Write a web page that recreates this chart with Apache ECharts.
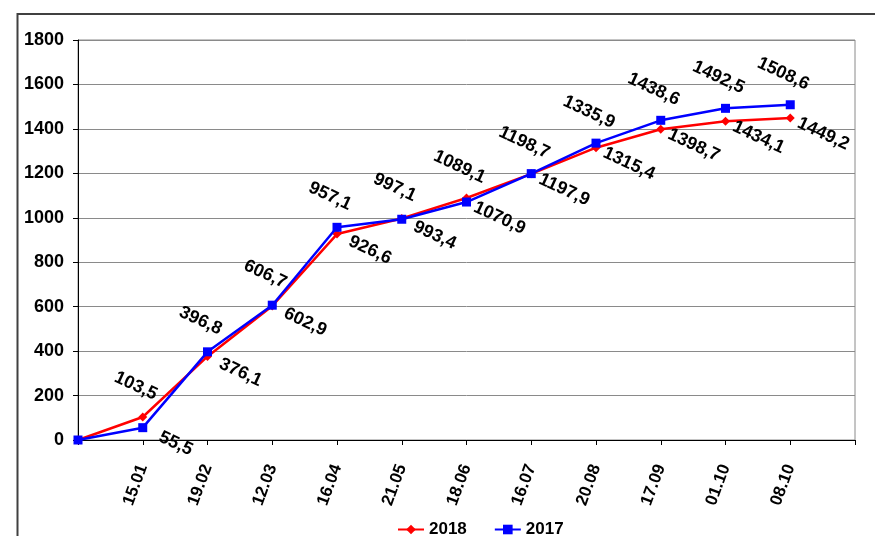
<!DOCTYPE html>
<html>
<head>
<meta charset="utf-8">
<script src="https://cdn.jsdelivr.net/npm/echarts@6/dist/echarts.min.js"></script>
<style>
html,body{margin:0;padding:0;background:#fff;}
#chart{width:875px;height:536px;}
</style>
</head>
<body>
<div id="chart"></div>
<script>
const categories = ['', '15.01', '19.02', '12.03', '16.04', '21.05', '18.06', '16.07', '20.08', '17.09', '01.10', '08.10', ''];
const values2018 = [0, 103.5, 376.1, 602.9, 926.6, 997.1, 1089.1, 1197.9, 1315.4, 1398.7, 1434.1, 1449.2];
const values2017 = [0, 55.5, 396.8, 606.7, 957.1, 993.4, 1070.9, 1198.7, 1335.9, 1438.6, 1492.5, 1508.6];
const yTicks = { min: 0, max: 1800, interval: 200 };

const FONT = "'Liberation Sans', Arial, sans-serif";
const SYM = 9;
const ABOVE = [SYM / 2 - 7, SYM / 2 - 31];
const BELOW = [SYM / 2 + 33, SYM / 2 + 16];

function fmt(v) { return String(v.toFixed(1)).replace('.', ','); }

function buildData(own, other) {
  return own.map(function (v, i) {
    if (i === 0) return { value: v, label: { show: false } };
    const above = v >= other[i];
    return { value: v, label: { position: above ? ABOVE : BELOW } };
  });
}

const labelCommon = {
  show: true,
  rotate: -25,
  align: 'center',
  verticalAlign: 'middle',
  color: '#000',
  fontFamily: FONT,
  fontWeight: 'bold',
  fontSize: 18,
  formatter: function (p) { return fmt(p.value); }
};

const chart = echarts.init(document.getElementById('chart'), null, { renderer: 'canvas' });
chart.setOption({
  animation: false,
  backgroundColor: '#fff',
  graphic: [{
    type: 'rect',
    shape: { x: 17.5, y: 14, width: 900, height: 600 },
    style: { fill: 'none', stroke: '#404040', lineWidth: 2 },
    silent: true
  }],
  grid: {
    left: 78, right: 20, top: 40, bottom: 96,
    show: true, borderColor: '#8a8a8a', borderWidth: 1, backgroundColor: 'transparent'
  },
  legend: {
    left: 397, top: 521, padding: 0,
    itemWidth: 26, itemHeight: 12, itemGap: 27,
    textStyle: { color: '#000', fontFamily: FONT, fontWeight: 'bold', fontSize: 17, padding: [0, 0, 0, 0] },
    data: ['2018', '2017']
  },
  xAxis: {
    type: 'category',
    data: categories,
    boundaryGap: false,
    axisLine: { lineStyle: { color: '#000', width: 1 } },
    axisTick: { show: true, length: 5, interval: 0, lineStyle: { color: '#000' } },
    axisLabel: {
      interval: 0, rotate: 70, margin: 25,
      color: '#000', fontFamily: FONT, fontWeight: 'bold', fontSize: 17
    },
    splitLine: { show: false }
  },
  yAxis: {
    type: 'value',
    min: yTicks.min, max: yTicks.max, interval: yTicks.interval,
    axisLine: { show: true, lineStyle: { color: '#000', width: 1 } },
    axisTick: { show: true, length: 5, lineStyle: { color: '#000' } },
    axisLabel: {
      margin: 14, color: '#000', fontFamily: FONT, fontWeight: 'bold', fontSize: 18,
      formatter: function (v) { return String(v); }
    },
    splitLine: { show: true, lineStyle: { color: '#8a8a8a', width: 1 } }
  },
  series: [
    {
      name: '2018', type: 'line',
      data: buildData(values2018, values2017),
      symbol: 'diamond', symbolSize: SYM, showAllSymbol: true,
      itemStyle: { color: '#ff0000' },
      lineStyle: { color: '#ff0000', width: 2.5 },
      label: labelCommon,
      z: 2
    },
    {
      name: '2017', type: 'line',
      data: buildData(values2017, values2018),
      symbol: 'rect', symbolSize: SYM, showAllSymbol: true,
      itemStyle: { color: '#0000ff' },
      lineStyle: { color: '#0000ff', width: 2.5 },
      label: labelCommon,
      z: 3
    }
  ]
});
</script>
</body>
</html>
